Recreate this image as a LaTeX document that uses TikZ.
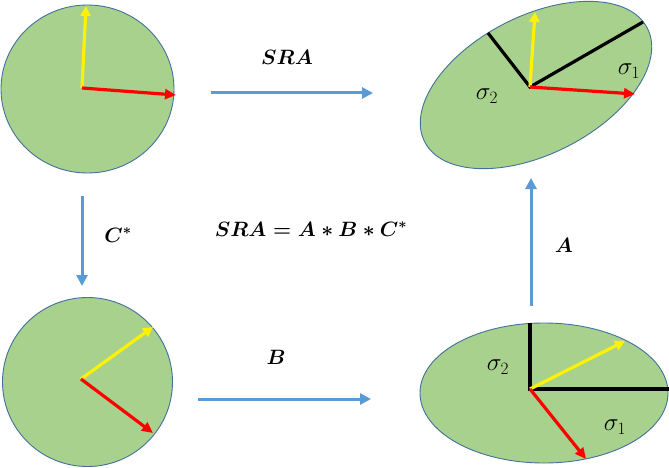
\documentclass[tikz,border=0pt]{standalone}
\usetikzlibrary{arrows.meta,shapes.geometric}
\definecolor{discgreen}{HTML}{A9D18E}
\definecolor{discline}{HTML}{41719C}
\definecolor{flowblue}{HTML}{5B9BD5}
\tikzset{
  disc/.style={ellipse,draw=discline,fill=discgreen,line width=0.9pt,inner sep=0pt},
  flow/.style={draw=flowblue,line width=3pt,-{Triangle[length=11pt,width=11pt]}},
  yvec/.style={draw=yellow,line width=3.2pt,-{Triangle[length=10pt,width=10pt]}},
  rvec/.style={draw=red,line width=3.2pt,-{Triangle[length=11pt,width=10pt]}},
  axisline/.style={draw=black,line width=3.2pt},
  lbl/.style={font=\fontsize{21}{25}\selectfont\boldmath,inner sep=0pt},
  sig/.style={font=\fontsize{23}{27}\selectfont,inner sep=0pt}
}
\begin{document}
\begin{tikzpicture}[x=1pt,y=-1pt]
\useasboundingbox (0,0) rectangle (669,468);
% discs
\node[disc,minimum width=173,minimum height=168] (c1) at (87.5,89) {};
\node[disc,minimum width=170,minimum height=169] (c2) at (87.5,382) {};
\node[disc,rotate=27,minimum width=250,minimum height=138] (e1) at (536,85) {};
\node[disc,minimum width=248,minimum height=140] (e2) at (544,393) {};
% top-left vectors
\coordinate (o1) at (82,88);
\coordinate (y1) at (86,6);
\coordinate (r1) at (176,95);
\draw[yvec] (o1) -- (y1);
\draw[rvec] (o1) -- (r1);
% bottom-left vectors
\coordinate (o2) at (81,379);
\coordinate (y2) at (153,327);
\coordinate (r2) at (153,433);
\draw[yvec] (o2) -- (y2);
\draw[rvec] (o2) -- (r2);
% top-right
\coordinate (o3) at (530,87);
\coordinate (m3) at (643,22);
\coordinate (n3) at (488,33);
\coordinate (y3) at (535,12);
\coordinate (r3) at (635,94);
\draw[axisline] (n3) -- (o3) -- (m3);
\draw[yvec] (o3) -- (y3);
\draw[rvec] (o3) -- (r3);
\node[sig] (s32) at (487,96) {$\sigma_2$};
\node[sig] (s31) at (629,71) {$\sigma_1$};
% bottom-right
\coordinate (o4) at (530,389);
\coordinate (m4) at (669,389);
\coordinate (n4) at (530,323);
\coordinate (y4) at (625,341);
\coordinate (r4) at (586,459);
\draw[axisline] (n4) -- (o4) -- (m4);
\draw[yvec] (o4) -- (y4);
\draw[rvec] (o4) -- (r4);
\node[sig] (s42) at (498,367) {$\sigma_2$};
\node[sig] (s41) at (615,427) {$\sigma_1$};
% flow arrows
\coordinate (fa1) at (211,93);
\coordinate (fa2) at (373,93);
\draw[flow] (fa1) -- (fa2);
\node[lbl] (tsra) at (287,57) {$SRA$};
\coordinate (fc1) at (82,196);
\coordinate (fc2) at (82,286);
\draw[flow] (fc1) -- (fc2);
\node[lbl] (tc) at (118,235) {$C^{*}$};
\coordinate (fb1) at (198,399);
\coordinate (fb2) at (371,399);
\draw[flow] (fb1) -- (fb2);
\node[lbl] (tb) at (276,357) {$B$};
\coordinate (fd1) at (531,306);
\coordinate (fd2) at (531,178);
\draw[flow] (fd1) -- (fd2);
\node[lbl] (ta) at (564,245) {$A$};
\node[lbl] (eq) at (311,229) {$SRA = A * B * C^{*}$};
\end{tikzpicture}
\end{document}
